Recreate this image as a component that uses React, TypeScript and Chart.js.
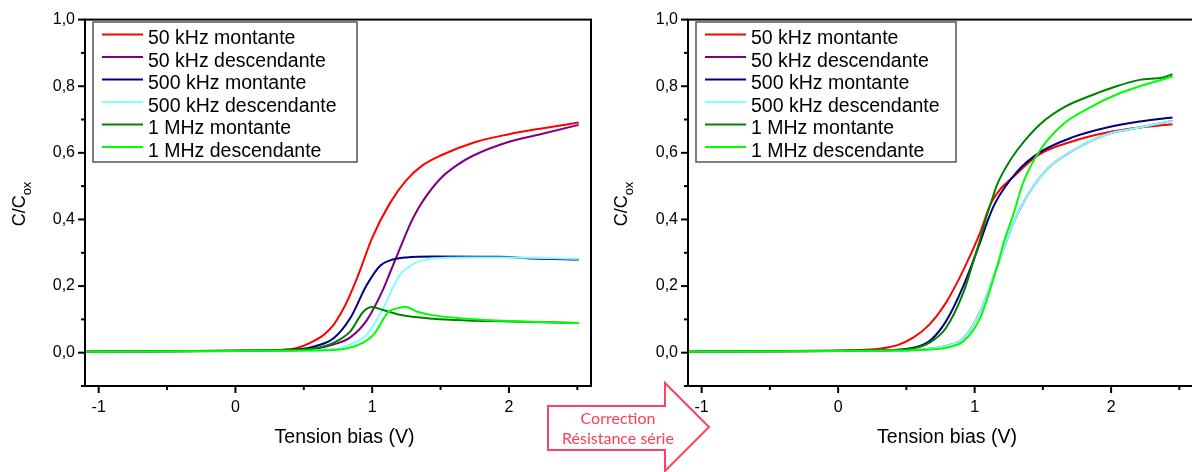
import React, { useEffect, useRef } from 'react';
import { Chart, registerables } from 'chart.js';

Chart.register(...registerables);

// ---------- data ----------
const SERIES_LABELS = [
  '50 kHz montante',
  '50 kHz descendante',
  '500 kHz montante',
  '500 kHz descendante',
  '1 MHz montante',
  '1 MHz descendante',
];
const SERIES_COLORS = ['#ff0000', '#800080', '#000080', '#80ffff', '#008000', '#00ff00'];

const X_MAJOR_TICKS = [-1, 0, 1, 2];
const X_TICK_LABELS = ['-1', '0', '1', '2'];
const Y_MAJOR_TICKS = [0, 0.2, 0.4, 0.6, 0.8, 1.0];
const Y_TICK_LABELS = ['0,0', '0,2', '0,4', '0,6', '0,8', '1,0'];

const X_TITLE = 'Tension bias (V)';
const ARROW_TEXT = ['Correction', 'Résistance série'];

// Left chart (raw)
const L_RED_X = [-1.1, -0.5, 0, 0.3, 0.45, 0.55, 0.65, 0.72, 0.8, 0.85, 0.9, 1.0, 1.13, 1.25, 1.37, 1.5, 1.75, 2.0, 2.25, 2.51];
const L_RED_Y = [0.003, 0.004, 0.006, 0.008, 0.014, 0.03, 0.055, 0.085, 0.14, 0.185, 0.235, 0.345, 0.449, 0.518, 0.563, 0.592, 0.632, 0.656, 0.674, 0.691];
const L_PURPLE_X = [-1.1, 0, 0.3, 0.47, 0.6, 0.72, 0.84, 0.96, 1.08, 1.13, 1.2, 1.25, 1.3, 1.37, 1.5, 1.62, 1.74, 1.99, 2.23, 2.51];
const L_PURPLE_Y = [0.003, 0.005, 0.006, 0.008, 0.013, 0.025, 0.046, 0.097, 0.19, 0.24, 0.31, 0.36, 0.405, 0.455, 0.523, 0.563, 0.592, 0.632, 0.656, 0.684];
const L_NAVY_X = [-1.1, 0, 0.3, 0.47, 0.59, 0.72, 0.84, 0.96, 1.06, 1.13, 1.25, 1.45, 1.93, 2.18, 2.51];
const L_NAVY_Y = [0.003, 0.006, 0.008, 0.01, 0.02, 0.044, 0.104, 0.203, 0.262, 0.277, 0.286, 0.289, 0.288, 0.283, 0.28];
const L_CYAN_X = [-1.1, 0, 0.3, 0.72, 0.84, 0.96, 1.08, 1.2, 1.33, 1.45, 1.7, 2.0, 2.51];
const L_CYAN_Y = [0.003, 0.005, 0.006, 0.01, 0.025, 0.054, 0.133, 0.232, 0.272, 0.283, 0.286, 0.286, 0.282];
const L_DGREEN_X = [-1.1, 0, 0.3, 0.6, 0.72, 0.84, 0.935, 1.0, 1.08, 1.2, 1.45, 1.69, 2.0, 2.51];
const L_DGREEN_Y = [0.003, 0.006, 0.007, 0.015, 0.03, 0.064, 0.123, 0.137, 0.128, 0.114, 0.102, 0.097, 0.094, 0.089];
const L_LGREEN_X = [-1.1, 0, 0.3, 0.72, 0.935, 1.01, 1.12, 1.18, 1.24, 1.33, 1.45, 1.69, 2.0, 2.51];
const L_LGREEN_Y = [0.003, 0.005, 0.006, 0.008, 0.03, 0.054, 0.123, 0.133, 0.138, 0.123, 0.112, 0.102, 0.095, 0.089];

// Right chart (after series-resistance correction)
const R_RED_X = [-1.1, 0, 0.2, 0.3, 0.43, 0.55, 0.67, 0.79, 0.92, 1.04, 1.12, 1.31, 1.48, 1.72, 1.97, 2.21, 2.45];
const R_RED_Y = [0.003, 0.006, 0.009, 0.012, 0.022, 0.045, 0.085, 0.15, 0.25, 0.36, 0.449, 0.538, 0.597, 0.635, 0.661, 0.676, 0.686];
const R_NAVY_X = [-1.1, 0, 0.3, 0.55, 0.67, 0.79, 0.92, 1.04, 1.09, 1.15, 1.31, 1.48, 1.72, 1.97, 2.21, 2.45];
const R_NAVY_Y = [0.003, 0.006, 0.007, 0.015, 0.035, 0.094, 0.203, 0.331, 0.39, 0.449, 0.543, 0.602, 0.647, 0.676, 0.694, 0.706];
const R_DGREEN_X = [-1.1, 0, 0.3, 0.55, 0.67, 0.79, 0.92, 0.98, 1.04, 1.08, 1.12, 1.16, 1.22, 1.31, 1.48, 1.67, 1.84, 2.04, 2.21, 2.38, 2.45];
const R_DGREEN_Y = [0.003, 0.006, 0.007, 0.013, 0.03, 0.074, 0.183, 0.26, 0.34, 0.4, 0.45, 0.5, 0.55, 0.607, 0.686, 0.74, 0.77, 0.8, 0.819, 0.826, 0.836];
const R_CYAN_X = [-1.1, 0, 0.3, 0.6, 0.79, 0.92, 1.04, 1.16, 1.28, 1.37, 1.43, 1.55, 1.72, 1.97, 2.21, 2.45];
const R_CYAN_Y = [0.003, 0.005, 0.006, 0.009, 0.02, 0.044, 0.123, 0.252, 0.385, 0.46, 0.499, 0.558, 0.607, 0.656, 0.676, 0.696];
const R_LGREEN_X = [-1.1, 0, 0.3, 0.6, 0.79, 0.92, 1.04, 1.16, 1.22, 1.28, 1.355, 1.478, 1.648, 1.844, 2.04, 2.21, 2.45];
const R_LGREEN_Y = [0.003, 0.005, 0.006, 0.008, 0.015, 0.035, 0.104, 0.252, 0.34, 0.41, 0.51, 0.607, 0.686, 0.736, 0.775, 0.8, 0.829];
// the corrected 50 kHz descendante curve is hidden beneath the others; keep it on the 500 kHz descendante trace
const R_PURPLE_X = R_CYAN_X;
const R_PURPLE_Y = R_CYAN_Y;

const LEFT_SERIES: [number[], number[]][] = [
  [L_RED_X, L_RED_Y],
  [L_PURPLE_X, L_PURPLE_Y],
  [L_NAVY_X, L_NAVY_Y],
  [L_CYAN_X, L_CYAN_Y],
  [L_DGREEN_X, L_DGREEN_Y],
  [L_LGREEN_X, L_LGREEN_Y],
];
const RIGHT_SERIES: [number[], number[]][] = [
  [R_RED_X, R_RED_Y],
  [R_PURPLE_X, R_PURPLE_Y],
  [R_NAVY_X, R_NAVY_Y],
  [R_CYAN_X, R_CYAN_Y],
  [R_DGREEN_X, R_DGREEN_Y],
  [R_LGREEN_X, R_LGREEN_Y],
];

const FONT = "'Liberation Sans', Arial, sans-serif";

function labelFor(value: number, ticks: number[], labels: string[]) {
  const i = ticks.findIndex((t) => Math.abs(t - value) < 1e-6);
  return i >= 0 ? labels[i] : '';
}

type ChartProps = {
  series: [number[], number[]][];
  yAxisWidth: number;
  rightPad: number;
  titleGap: number;
  legendWidth: number;
};

function CVChart({ series, yAxisWidth, rightPad, titleGap, legendWidth }: ChartProps) {
  const ref = useRef<HTMLCanvasElement | null>(null);

  useEffect(() => {
    if (!ref.current) return;

    const decor = {
      id: 'decor',
      afterDraw(chart: any) {
        const { ctx, chartArea: a, scales } = chart;
        ctx.save();
        // frame
        ctx.strokeStyle = '#000';
        ctx.lineWidth = 2;
        ctx.strokeRect(a.left, a.top, a.right - a.left, a.bottom - a.top);
        // x ticks
        scales.x.ticks.forEach((t: any) => {
          const h = Math.round(t.value * 2);
          if (Math.abs(t.value * 2 - h) > 1e-6) return;
          const major = h % 2 === 0;
          const px = scales.x.getPixelForValue(t.value);
          ctx.beginPath();
          ctx.moveTo(px, a.bottom);
          ctx.lineTo(px, a.bottom + (major ? 7 : 4));
          ctx.stroke();
        });
        // y ticks
        scales.y.ticks.forEach((t: any) => {
          const h = Math.round(t.value * 10);
          if (Math.abs(t.value * 10 - h) > 1e-6) return;
          const major = h % 2 === 0;
          const py = scales.y.getPixelForValue(t.value);
          ctx.beginPath();
          ctx.moveTo(a.left, py);
          ctx.lineTo(a.left - (major ? 7 : 4), py);
          ctx.stroke();
        });
        // x title
        ctx.fillStyle = '#000';
        ctx.font = `19.5px ${FONT}`;
        ctx.textAlign = 'center';
        ctx.textBaseline = 'alphabetic';
        ctx.fillText(X_TITLE, (a.left + a.right) / 2 + 6.5, 443);
        // y title: C/C_ox
        ctx.save();
        ctx.translate(a.left - titleGap, 204);
        ctx.rotate(-Math.PI / 2);
        ctx.font = `18px ${FONT}`;
        const mainW = ctx.measureText('C/C').width;
        ctx.font = `13px ${FONT}`;
        const subW = ctx.measureText('ox').width;
        const start = -(mainW + subW) / 2;
        ctx.textAlign = 'left';
        ctx.font = `18px ${FONT}`;
        ctx.fillText('C/C', start, 0);
        ctx.font = `13px ${FONT}`;
        ctx.fillText('ox', start + mainW, 6);
        ctx.restore();
        // legend
        const bx = a.left + 8;
        const by = 22;
        const bw = legendWidth;
        const bh = 140;
        ctx.fillStyle = '#fff';
        ctx.fillRect(bx, by, bw, bh);
        ctx.strokeStyle = '#555';
        ctx.lineWidth = 1.5;
        ctx.strokeRect(bx, by, bw, bh);
        chart.data.datasets.forEach((ds: any, i: number) => {
          const cy = 34.5 + i * 22.5;
          ctx.strokeStyle = ds.borderColor;
          ctx.lineWidth = 2;
          ctx.beginPath();
          ctx.moveTo(bx + 9, cy);
          ctx.lineTo(bx + 50, cy);
          ctx.stroke();
          ctx.fillStyle = '#000';
          ctx.font = `19.5px ${FONT}`;
          ctx.textAlign = 'left';
          ctx.textBaseline = 'alphabetic';
          ctx.fillText(ds.label, bx + 55, cy + 9.5);
        });
        ctx.restore();
      },
    };

    const chart = new Chart(ref.current, {
      type: 'scatter',
      data: {
        datasets: series.map(([xs, ys], i) => ({
          label: SERIES_LABELS[i],
          data: xs.map((x, k) => ({ x, y: ys[k] })),
          borderColor: SERIES_COLORS[i],
          backgroundColor: SERIES_COLORS[i],
          showLine: true,
          borderWidth: 2,
          pointRadius: 0,
          cubicInterpolationMode: 'monotone',
          order: series.length - i,
        })),
      },
      options: {
        animation: false,
        responsive: false,
        devicePixelRatio: 1,
        layout: { padding: { top: 14, right: rightPad, bottom: 0, left: 0 } },
        plugins: { legend: { display: false }, tooltip: { enabled: false } },
        scales: {
          x: {
            type: 'linear',
            min: -1.1,
            max: 2.6,
            grid: { display: false, drawTicks: false },
            border: { display: false },
            afterFit: (s: any) => {
              s.height = 86;
            },
            ticks: {
              stepSize: 0.5,
              includeBounds: false,
              autoSkip: false,
              maxRotation: 0,
              padding: 12,
              color: '#000',
              font: { family: FONT, size: 16 },
              callback: (v: any) => labelFor(Number(v), X_MAJOR_TICKS, X_TICK_LABELS),
            },
          },
          y: {
            type: 'linear',
            min: -0.1,
            max: 1.0,
            grid: { display: false, drawTicks: false },
            border: { display: false },
            afterFit: (s: any) => {
              s.width = yAxisWidth;
            },
            ticks: {
              stepSize: 0.1,
              includeBounds: false,
              autoSkip: false,
              padding: 10,
              color: '#000',
              font: { family: FONT, size: 16 },
              callback: (v: any) => labelFor(Number(v), Y_MAJOR_TICKS, Y_TICK_LABELS),
            },
          },
        },
      } as any,
      plugins: [decor],
    });
    return () => chart.destroy();
  }, [series, yAxisWidth, rightPad, titleGap, legendWidth]);

  return <canvas ref={ref} width={600} height={472} style={{ width: 600, height: 472, display: 'block' }} />;
}

export default function App() {
  return (
    <div
      style={{
        position: 'absolute',
        left: 0,
        top: 0,
        width: 1192,
        height: 472,
        overflow: 'hidden',
        background: '#fff',
      }}
    >
      <div style={{ position: 'absolute', left: 0, top: 0, width: 600, height: 472 }}>
        <CVChart series={LEFT_SERIES} yAxisWidth={85} rightPad={9} titleGap={60} legendWidth={264} />
      </div>
      <div style={{ position: 'absolute', left: 600, top: 0, width: 600, height: 472 }}>
        <CVChart series={RIGHT_SERIES} yAxisWidth={88} rightPad={7} titleGap={61} legendWidth={260} />
      </div>
      <svg
        width={1192}
        height={472}
        style={{ position: 'absolute', left: 0, top: 0, pointerEvents: 'none' }}
      >
        <polygon
          points="548,406 665,406 665,383 709,427 665,471 665,450 548,450"
          fill="#fff"
          stroke="#ff4060"
          strokeWidth={2}
        />
        <text x={618} y={424} textAnchor="middle" fill="#ff3c5a" fontFamily="Lato, 'Open Sans', sans-serif" fontSize={16}>
          {ARROW_TEXT[0]}
        </text>
        <text x={618} y={444} textAnchor="middle" fill="#ff3c5a" fontFamily="Lato, 'Open Sans', sans-serif" fontSize={16}>
          {ARROW_TEXT[1]}
        </text>
      </svg>
    </div>
  );
}
